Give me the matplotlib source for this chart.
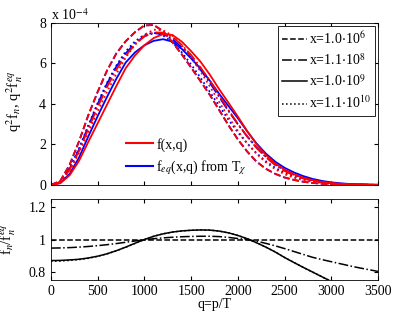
import numpy as np
import matplotlib
matplotlib.use("Agg")
import matplotlib.pyplot as plt
from matplotlib.lines import Line2D

# === 1. DATA (upper values in units of 1e-4) ===
q = np.arange(0, 3600, 100)

legend_labels = ["x=1.0$\\cdot$10$^{6}$", "x=1.1$\\cdot$10$^{8}$",
                 "x=1.0$\\cdot$10$^{9}$", "x=1.1$\\cdot$10$^{10}$"]
styles = ["--", "-.", "-", ":"]

# f_eq(x,q) from T_chi
feq_1e6 = [0, 0.2, 1.0, 2.15, 3.45, 4.6, 5.65, 6.5, 7.1, 7.55, 7.88, 7.9, 7.6, 7.05, 6.45, 5.8,
           5.13, 4.45, 3.7, 2.95, 2.25, 1.65, 1.15, 0.8, 0.55, 0.37, 0.25, 0.16, 0.1, 0.06,
           0.04, 0.025, 0.015, 0.01, 0.005, 0.003]
feq_11e8 = [0, 0.15, 0.8, 1.75, 2.9, 4.0, 5.0, 5.85, 6.5, 7.0, 7.35, 7.5, 7.45, 7.2, 6.8, 6.3,
            5.7, 5.05, 4.35, 3.65, 3.0, 2.4, 1.85, 1.4, 1.02, 0.73, 0.51, 0.35, 0.23, 0.15,
            0.1, 0.06, 0.04, 0.025, 0.015, 0.01]
feq_1e9 = [0, 0.1, 0.55, 1.35, 2.4, 3.4, 4.35, 5.25, 6.05, 6.55, 6.9, 7.12, 7.2, 7.08, 6.72, 6.25,
           5.75, 5.15, 4.5, 3.9, 3.3, 2.65, 2.05, 1.55, 1.15, 0.85, 0.62, 0.44, 0.3, 0.2,
           0.13, 0.08, 0.05, 0.03, 0.02, 0.01]
feq_11e10 = [0, 0.15, 0.82, 1.8, 2.95, 4.05, 5.05, 5.9, 6.6, 7.1, 7.42, 7.52, 7.38, 7.05, 6.55, 5.95,
             5.3, 4.6, 3.9, 3.22, 2.6, 2.05, 1.57, 1.17, 0.85, 0.6, 0.42, 0.29, 0.19, 0.12,
             0.08, 0.05, 0.03, 0.02, 0.01, 0.006]

# f(x,q)
f_1e6 = feq_1e6
f_11e8 = [0, 0.14, 0.76, 1.67, 2.78, 3.85, 4.84, 5.7, 6.39, 6.94, 7.34, 7.54, 7.52, 7.3, 6.92, 6.42,
          5.81, 5.15, 4.43, 3.7, 3.02, 2.4, 1.83, 1.37, 0.98, 0.69, 0.47, 0.32, 0.2, 0.13,
          0.09, 0.05, 0.03, 0.02, 0.012, 0.008]
f_1e9 = [0, 0.087, 0.48, 1.19, 2.13, 3.05, 3.97, 4.89, 5.77, 6.4, 6.9, 7.26, 7.45, 7.41, 7.08, 6.61,
         6.09, 5.45, 4.73, 4.06, 3.38, 2.66, 2.01, 1.48, 1.06, 0.76, 0.53, 0.36, 0.24, 0.15,
         0.096, 0.057, 0.034, 0.02, 0.013, 0.006]
f_11e10 = [0, 0.13, 0.72, 1.58, 2.61, 3.63, 4.6, 5.49, 6.29, 6.94, 7.42, 7.67, 7.64, 7.37, 6.9, 6.29,
           5.61, 4.87, 4.1, 3.35, 2.67, 2.06, 1.54, 1.12, 0.78, 0.53, 0.36, 0.24, 0.15, 0.09,
           0.06, 0.035, 0.02, 0.012, 0.006, 0.004]

# f_n / f_n^eq
ratio_1e6 = [1.0] * 36
ratio_11e8 = [0.947, 0.948, 0.95, 0.953, 0.957, 0.962, 0.968, 0.975, 0.983, 0.991, 0.998, 1.005,
              1.01, 1.014, 1.017, 1.019, 1.02, 1.02, 1.018, 1.013, 1.006, 0.999, 0.99, 0.976,
              0.961, 0.944, 0.926, 0.908, 0.89, 0.876, 0.863, 0.85, 0.837, 0.825, 0.814, 0.803]
ratio_1e9 = [0.87, 0.871, 0.874, 0.878, 0.886, 0.897, 0.912, 0.931, 0.953, 0.977, 1.0, 1.02,
             1.035, 1.046, 1.053, 1.057, 1.059, 1.058, 1.052, 1.041, 1.025, 1.005, 0.98, 0.953,
             0.923, 0.889, 0.858, 0.828, 0.799, 0.77, 0.741, 0.712, 0.683, 0.654, 0.625, 0.596]
ratio_11e10 = [0.866, 0.867, 0.871, 0.876, 0.884, 0.896, 0.911, 0.93, 0.952, 0.976, 1.0, 1.02,
               1.035, 1.046, 1.053, 1.057, 1.059, 1.058, 1.052, 1.041, 1.025, 1.005, 0.98, 0.953,
               0.923, 0.889, 0.858, 0.828, 0.799, 0.77, 0.741, 0.712, 0.683, 0.654, 0.625, 0.596]

feq_all = [feq_1e6, feq_11e8, feq_1e9, feq_11e10]
f_all = [f_1e6, f_11e8, f_1e9, f_11e10]
ratio_all = [ratio_1e6, ratio_11e8, ratio_1e9, ratio_11e10]

# === 2. STYLE ===
plt.rcParams["font.family"] = ["Liberation Serif", "DejaVu Serif"]
plt.rcParams["mathtext.fontset"] = "stix"
plt.rcParams["font.size"] = 10
plt.rcParams["xtick.direction"] = "in"
plt.rcParams["ytick.direction"] = "in"
plt.rcParams["xtick.top"] = True
plt.rcParams["ytick.right"] = True
plt.rcParams["xtick.major.size"] = 3
plt.rcParams["ytick.major.size"] = 3
plt.rcParams["axes.linewidth"] = 0.6

fig = plt.figure(figsize=(3.95, 3.13), dpi=100)
ax1 = fig.add_axes([0.129, 0.409, 0.828, 0.5175])
ax2 = fig.add_axes([0.129, 0.1054, 0.828, 0.2588])

# === 3. UPPER PANEL ===
for fe, ls in zip(feq_all, styles):
    ax1.plot(q, fe, color="blue", linestyle=ls, linewidth=1.3)
for f, ls in zip(f_all, styles):
    ax1.plot(q, f, color="red", linestyle=ls, linewidth=1.3)

ax1.set_xlim(0, 3500)
ax1.set_ylim(0, 8)
ax1.set_xticks(np.arange(0, 3501, 500))
ax1.set_xticklabels([])
ax1.set_yticks([0, 2, 4, 6, 8])
ax1.set_ylabel("q$^2$f$_n$, q$^2$f$_n^{eq}$", fontsize=10.5)
ax1.yaxis.set_label_coords(-0.08, 0.52)
ax1.text(0.0, 1.0, "x 10$^{-4}$", transform=ax1.transAxes, ha="left", va="bottom")

black_handles = [Line2D([], [], color="black", linestyle=ls, linewidth=1.1) for ls in styles]
leg1 = ax1.legend(black_handles, legend_labels, loc="upper right", handlelength=1.8,
                  handletextpad=0.15, borderpad=0.3, labelspacing=0.4, fancybox=False,
                  edgecolor="black", framealpha=1, borderaxespad=0.2, fontsize=10)
leg1.get_frame().set_linewidth(0.6)
ax1.add_artist(leg1)

color_handles = [Line2D([], [], color="red", linewidth=1.5),
                 Line2D([], [], color="blue", linewidth=1.5)]
ax1.legend(color_handles, ["f(x,q)", "f$_{eq}$(x,q) from T$_\\chi$"], loc="upper left",
           bbox_to_anchor=(0.19, 0.37), frameon=False, handlelength=2.0, handletextpad=0.2,
           labelspacing=0.5, fontsize=10)

# === 4. LOWER PANEL ===
for r, ls in zip(ratio_all, styles):
    ax2.plot(q, r, color="black", linestyle=ls, linewidth=1.1)

ax2.set_xlim(0, 3500)
ax2.set_ylim(0.75, 1.25)
ax2.set_xticks(np.arange(0, 3501, 500))
ax2.set_yticks([0.8, 1.0, 1.2])
ax2.set_yticklabels(["0.8", "1", "1.2"])
ax2.set_xlabel("q=p/T", labelpad=0)
ax2.set_ylabel("f$_n$/f$_n^{eq}$", fontsize=10.5)
ax2.yaxis.set_label_coords(-0.1, 0.5)

fig.savefig("out.png", dpi=100)
